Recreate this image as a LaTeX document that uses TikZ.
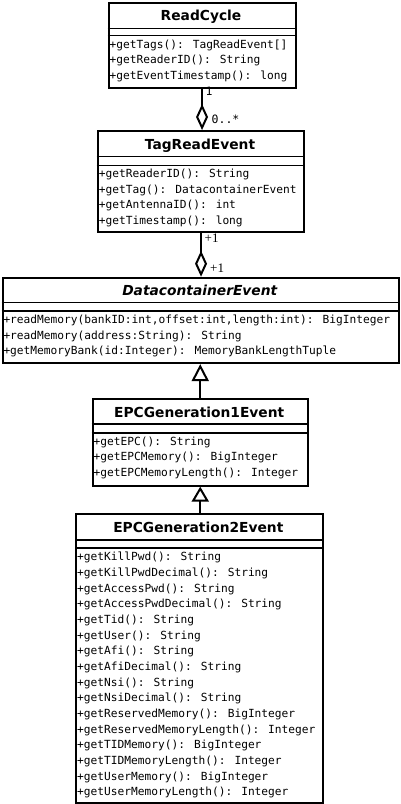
\documentclass[tikz,border=0pt]{standalone}
\usepackage{fontspec}
\setmainfont{DejaVu Sans}
\newfontfamily\monof{DejaVu Sans Mono}
\newfontfamily\serf{Liberation Serif}
\usetikzlibrary{arrows.meta}
\tikzset{
  cls/.style={draw, line width=2.1pt, fill=white, inner sep=0pt, anchor=north west},
  sepline/.style={line width=1.8pt},
  ttl/.style={inner sep=0pt, font=\fontsize{13.8}{16}\selectfont\bfseries, text height=9.8pt, text depth=0pt},
  meth/.style={inner sep=0pt, anchor=base west, font=\monof\fontsize{11.2}{15.6}\selectfont},
  lbl/.style={inner sep=0pt, anchor=west, font=\monof\fontsize{11.5}{13}\selectfont},
  slbl/.style={inner sep=0pt, anchor=west, font=\serf\fontsize{13}{14}\selectfont},
  aggr/.style={line width=2pt, -{Diamond[open,length=26pt,width=12pt]}},
  inh/.style={line width=2pt, -{Triangle[open,length=17pt,width=17pt]}},
}
\begin{document}
\begin{tikzpicture}[x=1pt,y=-1pt]
\useasboundingbox (0,0) rectangle (400,804);

% ReadCycle
\node[cls, minimum width=187pt, minimum height=85pt] (rc) at (107.5,1.5) {};
\draw[sepline] (rc.west |- 0,28.5) -- (rc.east |- 0,28.5);
\draw[sepline] (rc.west |- 0,35.5) -- (rc.east |- 0,35.5);
\node[ttl] (rct) at (201,15.5) {ReadCycle};
\foreach \t [count=\i from 0] in {{+getTags(): TagReadEvent[]},{+getReaderID(): String},{+getEventTimestamp(): long}}
  \node[meth] (rcm\i) at (109.5,{48+15.6*\i}) {\t};

% TagReadEvent
\node[cls, minimum width=206.6pt, minimum height=101pt] (tag) at (96.7,130) {};
\draw[sepline] (tag.west |- 0,156.5) -- (tag.east |- 0,156.5);
\draw[sepline] (tag.west |- 0,165.5) -- (tag.east |- 0,165.5);
\node[ttl] (tagt) at (200,145) {TagReadEvent};
\foreach \t [count=\i from 0] in {{+getReaderID(): String},{+getTag(): DatacontainerEvent},{+getAntennaID(): int},{+getTimestamp(): long}}
  \node[meth] (tagm\i) at (98.7,{177.5+15.6*\i}) {\t};

% DatacontainerEvent
\node[cls, minimum width=396.5pt, minimum height=85.3pt] (dc) at (1.5,276.7) {};
\draw[sepline] (dc.west |- 0,302.5) -- (dc.east |- 0,302.5);
\draw[sepline] (dc.west |- 0,311) -- (dc.east |- 0,311);
\node[ttl, font=\fontsize{13.8}{16}\selectfont\bfseries\itshape] (dct) at (199.75,291) {DatacontainerEvent};
\foreach \t [count=\i from 0] in {{+readMemory(bankID:int,offset:int,length:int): BigInteger},{+readMemory(address:String): String},{+getMemoryBank(id:Integer): MemoryBankLengthTuple}}
  \node[meth] (dcm\i) at (3.3,{323.5+15.6*\i}) {\t};

% EPCGeneration1Event
\node[cls, minimum width=215pt, minimum height=86.5pt] (e1) at (91.7,398) {};
\draw[sepline] (e1.west |- 0,424) -- (e1.east |- 0,424);
\draw[sepline] (e1.west |- 0,433) -- (e1.east |- 0,433);
\node[ttl] (e1t) at (199.2,412.5) {EPCGeneration1Event};
\foreach \t [count=\i from 0] in {{+getEPC(): String},{+getEPCMemory(): BigInteger},{+getEPCMemoryLength(): Integer}}
  \node[meth] (e1m\i) at (93.5,{445.3+15.6*\i}) {\t};

% EPCGeneration2Event
\node[cls, minimum width=246.7pt, minimum height=289pt] (e2) at (75,513) {};
\draw[sepline] (e2.west |- 0,540) -- (e2.east |- 0,540);
\draw[sepline] (e2.west |- 0,548) -- (e2.east |- 0,548);
\node[ttl] (e2t) at (198.35,528) {EPCGeneration2Event};
\foreach \t [count=\i from 0] in {{+getKillPwd(): String},{+getKillPwdDecimal(): String},{+getAccessPwd(): String},{+getAccessPwdDecimal(): String},{+getTid(): String},{+getUser(): String},{+getAfi(): String},{+getAfiDecimal(): String},{+getNsi(): String},{+getNsiDecimal(): String},{+getReservedMemory(): BigInteger},{+getReservedMemoryLength(): Integer},{+getTIDMemory(): BigInteger},{+getTIDMemoryLength(): Integer},{+getUserMemory(): BigInteger},{+getUserMemoryLength(): Integer}}
  \node[meth] (e2m\i) at (77,{560.8+15.67*\i}) {\t};

% connectors
\draw[aggr] (rc.south) -- (rc.south |- tag.north);
\node[lbl] (l1) at (205.5,91) {1};
\node[lbl] (l2) at (211.5,119) {0..*};
\draw[aggr] (tag.south) -- (tag.south |- dc.north);
\node[slbl] (l3) at (204.5,238) {+1};
\node[slbl] (l4) at (210,268) {+1};
\draw[inh] (e1.north) -- (e1.north |- dc.south);
\draw[inh, -{Triangle[open,length=15pt,width=17pt]}] (e1.south |- e2.north) -- (e1.south);
\end{tikzpicture}
\end{document}
